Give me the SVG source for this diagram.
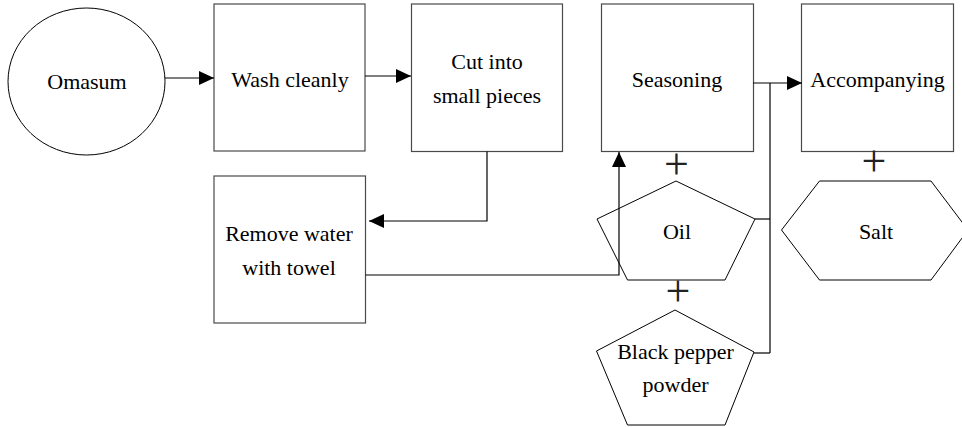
<svg xmlns="http://www.w3.org/2000/svg" width="962" height="427" viewBox="0 0 962 427">
  <style>
    .box { fill: #ffffff; stroke: #4a4a4a; stroke-width: 1.2; }
    .shape { fill: #ffffff; stroke: #000000; stroke-width: 1; }
    .conn { fill: none; stroke: #000000; stroke-width: 1.2; }
    .lbl { font-family: "Liberation Serif", "Times New Roman", serif; font-size: 22px; fill: #000000; text-anchor: middle; }
    .plus { font-family: "Liberation Serif", "Times New Roman", serif; font-size: 44px; fill: #222222; text-anchor: middle; }
  </style>
  <defs>
    <marker id="arrow" markerWidth="15" markerHeight="14" refX="15" refY="7" orient="auto" markerUnits="userSpaceOnUse">
      <path d="M0,0 L15,7 L0,14 z" fill="#000000"/>
    </marker>
  </defs>
  <rect width="962" height="427" fill="#ffffff"/>

  <g id="omasum">
    <ellipse class="shape" cx="86.5" cy="81.5" rx="78.5" ry="73.5"/>
    <text class="lbl" x="87" y="89">Omasum</text>
  </g>

  <g id="wash">
    <rect class="box" x="214" y="4" width="151" height="147"/>
    <text class="lbl" x="290" y="87">Wash cleanly</text>
  </g>

  <g id="cut">
    <rect class="box" x="411.5" y="4" width="151" height="147.5"/>
    <text class="lbl" x="487" y="69">Cut into</text>
    <text class="lbl" x="487" y="103">small pieces</text>
  </g>

  <g id="remove">
    <rect class="box" x="214" y="176" width="151.5" height="147"/>
    <text class="lbl" x="289" y="241">Remove water</text>
    <text class="lbl" x="289" y="275">with towel</text>
  </g>

  <g id="seasoning">
    <rect class="box" x="601.5" y="4" width="152" height="147.5"/>
    <text class="lbl" x="677" y="87">Seasoning</text>
  </g>

  <g id="accompanying">
    <rect class="box" x="801.5" y="4" width="152" height="147.5"/>
    <text class="lbl" x="877.5" y="87">Accompanying</text>
  </g>

  <g id="oil">
    <text class="plus" x="676.5" y="179">+</text>
    <polygon class="shape" points="676,181 755,219 725,280 627.5,280 597,219"/>
    <text class="lbl" x="677" y="239">Oil</text>
  </g>

  <g id="black-pepper">
    <text class="plus" x="678" y="306">+</text>
    <polygon class="shape" points="675,310 754,352 725,425 627.5,425 596.5,351"/>
    <text class="lbl" x="675.5" y="359">Black pepper</text>
    <text class="lbl" x="675.5" y="392">powder</text>
  </g>

  <g id="salt">
    <text class="plus" x="874" y="176">+</text>
    <polygon class="shape" points="819.5,181 931,181 968,230 931,280 819.5,280 781.5,230"/>
    <text class="lbl" x="876" y="239">Salt</text>
  </g>

  <!-- connectors drawn last so the feed line into Seasoning shows across the Oil shape -->
  <g id="connectors">
    <line class="conn" x1="165" y1="78" x2="214" y2="78" marker-end="url(#arrow)"/>
    <line class="conn" x1="365" y1="76" x2="411" y2="76" marker-end="url(#arrow)"/>
    <polyline class="conn" points="487,151.5 487,221 369,221" marker-end="url(#arrow)"/>
    <polyline class="conn" points="365.5,275 619,275 619,152" marker-end="url(#arrow)"/>
    <line class="conn" x1="753" y1="83" x2="802" y2="83" marker-end="url(#arrow)"/>
    <line class="conn" x1="770" y1="83" x2="770" y2="353"/>
    <line class="conn" x1="755" y1="219" x2="770" y2="219"/>
    <line class="conn" x1="754" y1="353" x2="770" y2="353"/>
  </g>
</svg>
